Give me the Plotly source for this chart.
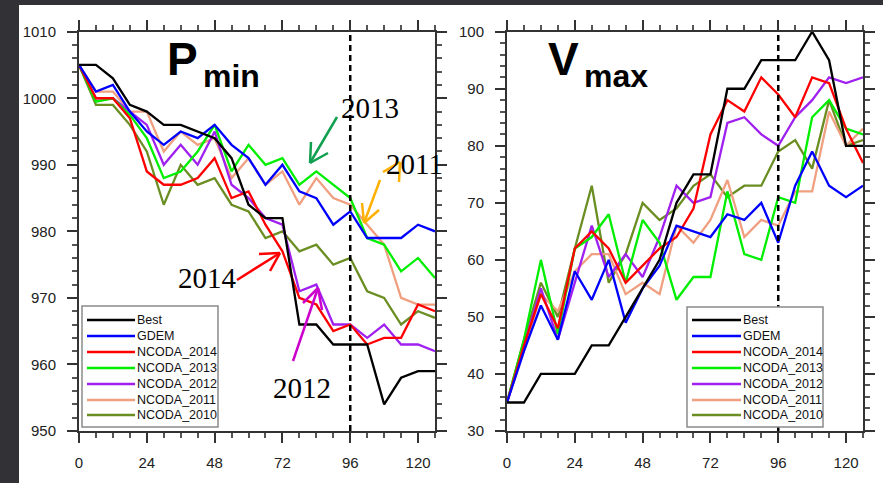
import plotly.graph_objects as go

W, H = 883, 483

hours = [0, 6, 12, 18, 24, 30, 36, 42, 48, 54, 60, 66, 72, 78, 84, 90, 96, 102, 108, 114, 120, 126]

series_names = ["Best", "GDEM", "NCODA_2014", "NCODA_2013", "NCODA_2012", "NCODA_2011", "NCODA_2010"]
series_colors = ["#000000", "#0000ff", "#ff0000", "#00ee00", "#a020f0", "#f0a080", "#6b8e23"]

# Minimum pressure (hPa)
pmin_best = [1005, 1005, 1003, 999, 998, 996, 996, 995, 994, 991, 984, 982, 982, 966, 966, 963, 963, 963, 954, 958, 959, 959]
pmin_gdem = [1005, 1001, 1002, 998, 995, 993, 995, 994, 996, 993, 991, 987, 990, 986, 985, 981, 983, 979, 979, 979, 981, 980]
pmin_2014 = [1005, 1000, 1000, 997, 989, 987, 987, 988, 991, 985, 986, 981, 977, 970, 969, 965, 966, 963, 964, 964, 969, 968]
pmin_2013 = [1005, 999.5, 1000, 997.5, 994, 988, 989, 992, 996, 989, 993, 990, 991, 987, 989, 987, 985, 979, 978, 974, 976, 973]
pmin_2012 = [1005, 1000, 1000, 998, 996, 990, 993, 990, 995, 987, 985, 982, 981, 971, 972, 966, 966, 964, 966, 963, 963, 962]
pmin_2011 = [1005, 1001, 1001, 998, 998, 992, 995, 993, 994, 988, 991, 987, 989, 984, 988, 985, 984, 981, 978, 970, 969, 969]
pmin_2010 = [1005, 999, 999, 996, 992, 984, 990, 987, 988, 984, 983, 979, 980, 977, 978, 975, 976, 971, 970, 966, 968, 967]

# Maximum wind (kt)
vmax_best = [35, 35, 40, 40, 40, 45, 45, 50, 55, 60, 70, 75, 75, 90, 90, 95, 95, 95, 100, 95, 80, 80]
vmax_gdem = [35, 44, 52, 46, 58, 53, 60, 49, 55, 59, 66, 65, 64, 68, 67, 70, 63, 73, 79, 73, 71, 73]
vmax_2014 = [35, 45, 54, 48, 62, 65, 62, 56, 59, 62, 64, 69, 82, 88, 86, 92, 89, 85, 92, 91, 83, 77]
vmax_2013 = [35, 46, 60, 47, 62, 64, 68, 56, 67, 63, 53, 57, 57, 72, 61, 60, 71, 70, 85, 88, 83, 82]
vmax_2012 = [35, 45, 55, 46, 56, 66, 57, 61, 57, 64, 73, 70, 71, 84, 85, 82, 80, 85, 88, 92, 91, 92]
vmax_2011 = [35, 44, 54, 51, 58, 61, 61, 54, 56, 54, 66, 63, 67, 74, 64, 67, 66, 72, 72, 86, 80, 83]
vmax_2010 = [35, 46, 56, 50, 62, 73, 56, 61, 70, 67, 69, 73, 75, 71, 73, 73, 79, 81, 76, 88, 80, 81]

pmin_all = [pmin_best, pmin_gdem, pmin_2014, pmin_2013, pmin_2012, pmin_2011, pmin_2010]
vmax_all = [vmax_best, vmax_gdem, vmax_2014, vmax_2013, vmax_2012, vmax_2011, vmax_2010]

x_ticks = [0, 24, 48, 72, 96, 120]
p_ticks = [950, 960, 970, 980, 990, 1000, 1010]
v_ticks = [30, 40, 50, 60, 70, 80, 90, 100]
split_hour = 96

year_labels = ["2013", "2011", "2014", "2012"]


def px(x):
    return x / W


def py(y):
    return 1 - y / H


fig = go.Figure()

# draw order: put Best on top
order = [6, 5, 4, 3, 2, 1, 0]
for i in order:
    fig.add_trace(go.Scatter(x=hours, y=pmin_all[i], mode="lines", name=series_names[i],
                             line=dict(color=series_colors[i], width=2.3), showlegend=False,
                             hoverinfo="skip", xaxis="x", yaxis="y"))
for i in order:
    fig.add_trace(go.Scatter(x=hours, y=vmax_all[i], mode="lines", name=series_names[i],
                             line=dict(color=series_colors[i], width=2.3), showlegend=False,
                             hoverinfo="skip", xaxis="x2", yaxis="y2"))

tickfont = dict(family="Liberation Sans, Arial, sans-serif", size=15, color="#222222")
axis_common = dict(
    showline=True, linecolor="#333333", linewidth=2, mirror="ticks",
    ticks="outside", ticklen=10, tickwidth=2, tickcolor="#333333",
    showgrid=False, zeroline=False, tickfont=tickfont, automargin=False,
)
minor_x = dict(dtick=6, ticks="outside", ticklen=5, tickwidth=1.5, tickcolor="#555555", showgrid=False)
minor_y = dict(dtick=2, ticks="outside", ticklen=5, tickwidth=1.5, tickcolor="#555555", showgrid=False)

ytop, ybot = 31.7, 431
fig.update_layout(
    width=W, height=H,
    margin=dict(l=0, r=0, t=0, b=0, autoexpand=False),
    paper_bgcolor="#323236",
    plot_bgcolor="white",
    showlegend=False,
    xaxis=dict(domain=[px(79), px(435)], range=[0, 126], tickvals=x_ticks,
               minor=minor_x, ticklabelstandoff=7, anchor="y", **axis_common),
    yaxis=dict(domain=[py(ybot), py(ytop)], range=[950, 1010], tickvals=p_ticks,
               minor=minor_y, ticklabelstandoff=8, anchor="x", **axis_common),
    xaxis2=dict(domain=[px(507), px(863)], range=[0, 126], tickvals=x_ticks,
                minor=minor_x, ticklabelstandoff=7, anchor="y2", **axis_common),
    yaxis2=dict(domain=[py(ybot), py(ytop)], range=[30, 100], tickvals=v_ticks,
                minor=minor_y, ticklabelstandoff=8, anchor="x2", **axis_common),
)

shapes = []
# white page behind the charts
shapes.append(dict(type="rect", xref="paper", yref="paper", x0=px(19), x1=px(W + 5),
                   y0=py(H + 5), y1=py(5), fillcolor="white", line=dict(width=0), layer="below"))

# dashed forecast split lines
for xr, yr in [("x", "y domain"), ("x2", "y2 domain")]:
    shapes.append(dict(type="line", xref=xr, yref=yr, x0=split_hour, x1=split_hour, y0=0, y1=1,
                       line=dict(color="black", width=2.5, dash="6px,4px"), layer="above"))

annotations = []

# manual legends
legend_boxes = [(82, 306, 218, 427, 87, 135), (687, 307, 823, 427, 692, 741)]
row_y = [320, 336, 352, 368, 384, 400, 415]
for (bx0, by0, bx1, by1, lx0, lx1) in legend_boxes:
    shapes.append(dict(type="rect", xref="paper", yref="paper", x0=px(bx0), x1=px(bx1),
                       y0=py(by1), y1=py(by0), fillcolor="white",
                       line=dict(color="#8a8a8a", width=1.5), layer="above"))
    for k, name in enumerate(series_names):
        yy = row_y[k]
        shapes.append(dict(type="line", xref="paper", yref="paper", x0=px(lx0), x1=px(lx1),
                           y0=py(yy), y1=py(yy), line=dict(color=series_colors[k], width=2.3),
                           layer="above"))
        annotations.append(dict(xref="paper", yref="paper", x=px(lx1), y=py(yy), text=name,
                                showarrow=False, xanchor="left", yanchor="middle",
                                font=dict(family="Liberation Sans, Arial, sans-serif", size=12.5,
                                          color="#111111")))

# panel titles
title_font_big = dict(family="Liberation Sans, Arial, sans-serif", size=46, color="black", weight="bold")
title_font_sub = dict(family="Liberation Sans, Arial, sans-serif", size=32, color="black", weight="bold")
for big, sub, xbig, xsub in [("P", "min", 200, 201), ("V", "max", 581, 582)]:
    annotations.append(dict(xref="paper", yref="paper", x=px(xbig), y=py(59), text=big,
                            showarrow=False, xanchor="right", yanchor="middle", font=title_font_big))
    annotations.append(dict(xref="paper", yref="paper", x=px(xsub), y=py(76), text=sub,
                            showarrow=False, xanchor="left", yanchor="middle", font=title_font_sub))

# year callouts
year_pos = [(370, 107.5), (414, 164), (207.5, 278), (302, 387.5)]
for t, (xx, yy) in zip(year_labels, year_pos):
    annotations.append(dict(xref="paper", yref="paper", x=px(xx), y=py(yy), text=t,
                            showarrow=False, xanchor="center", yanchor="middle",
                            font=dict(family="Liberation Serif, Times New Roman, serif", size=29,
                                      color="black")))

# hand-drawn arrows (tail, tip, head1, head2, colour)
arrows = [
    ((337, 117), (310, 163), (311, 142), (328, 153), "#10a050"),
    ((380, 180), (364, 223), (362, 203), (379, 210), "#ffb000"),
    ((237, 280), (280, 253), (259, 254), (270, 271), "#ff0000"),
    ((293, 361), (318, 288), (303, 303), (322, 310), "#cc00cc"),
]
for tail, tip, h1, h2, col in arrows:
    for a, b in [(tail, tip), (tip, h1), (tip, h2)]:
        shapes.append(dict(type="line", xref="paper", yref="paper", x0=px(a[0]), y0=py(a[1]),
                           x1=px(b[0]), y1=py(b[1]), line=dict(color=col, width=2.5), layer="above"))
# stray orange strokes next to "2011"
for a, b in [((383, 172), (400, 162)), ((400, 162), (399, 182))]:
    shapes.append(dict(type="line", xref="paper", yref="paper", x0=px(a[0]), y0=py(a[1]),
                       x1=px(b[0]), y1=py(b[1]), line=dict(color="#ffb000", width=2.5), layer="above"))

fig.update_layout(shapes=shapes, annotations=annotations)
fig.write_html(
    "out.html",
    config={"displayModeBar": False},
    post_script="document.body.style.margin='0';document.body.style.overflow='hidden';"
                "document.body.style.background='#323236';",
)
